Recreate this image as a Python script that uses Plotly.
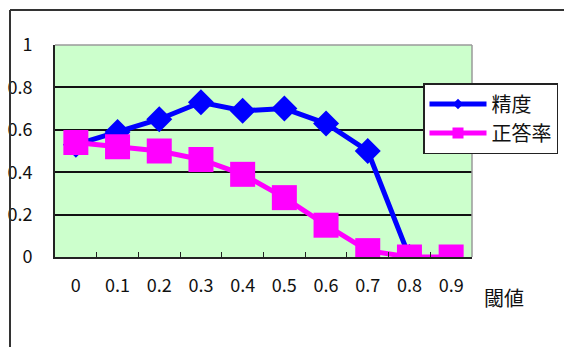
import plotly.graph_objects as go

categories = ["0", "0.1", "0.2", "0.3", "0.4", "0.5", "0.6", "0.7", "0.8", "0.9"]
precision = [0.53, 0.59, 0.65, 0.73, 0.69, 0.70, 0.63, 0.50, 0.0, None]
accuracy = [0.54, 0.52, 0.50, 0.46, 0.39, 0.28, 0.15, 0.03, 0.0, 0.0]
y_ticks = [0, 0.2, 0.4, 0.6, 0.8, 1]
y_labels = ["0", "0.2", "0.4", "0.6", "0.8", "1"]
series_names = ["精度", "正答率"]

W, H = 564, 347
L, R, T, B = 55, 472, 45, 257
pw, ph = R - L, B - T

def px(x):
    return (x - L) / pw

def py(y):
    return (B - y) / ph

BLUE, PINK = "#0000FF", "#FF00FF"

fig = go.Figure()
fig.add_trace(go.Scatter(
    x=categories, y=precision, name=series_names[0], mode="lines+markers",
    line=dict(color=BLUE, width=5), showlegend=False,
    marker=dict(symbol="diamond", size=20, color=BLUE),
))
fig.add_trace(go.Scatter(
    x=categories, y=accuracy, name=series_names[1], mode="lines+markers",
    line=dict(color=PINK, width=5), showlegend=False,
    marker=dict(symbol="square", size=25, color=PINK),
))
# legend entries (smaller symbols like the original)
fig.add_trace(go.Scatter(
    x=[None], y=[None], name=series_names[0], mode="lines+markers",
    line=dict(color=BLUE, width=5),
    marker=dict(symbol="diamond", size=8, color=BLUE),
))
fig.add_trace(go.Scatter(
    x=[None], y=[None], name=series_names[1], mode="lines+markers",
    line=dict(color=PINK, width=5),
    marker=dict(symbol="square", size=11, color=PINK),
))

font_family = "Noto Sans CJK JP, sans-serif"

fig.update_layout(
    width=W, height=H,
    margin=dict(l=L, r=W - R, t=T, b=H - B, pad=0, autoexpand=False),
    paper_bgcolor="white",
    plot_bgcolor="#CCFFCC",
    font=dict(family=font_family, size=18, color="#111111"),
    showlegend=True,
    legend=dict(
        x=px(423), y=py(83), xanchor="left", yanchor="top",
        bgcolor="white", bordercolor="#222222", borderwidth=1.5,
        font=dict(size=20, family=font_family, color="#111111"),
        itemwidth=57, tracegroupgap=0, itemsizing="trace",
    ),
    xaxis=dict(
        type="category", categoryorder="array", categoryarray=categories,
        range=[-0.5, 9.5], tickson="boundaries", ticks="inside", ticklen=5,
        tickcolor="#222222", showgrid=False, showline=True, linecolor="#222222",
        linewidth=2, mirror=False, zeroline=False, ticklabelstandoff=11,
        tickfont=dict(size=18), automargin=False,
    ),
    yaxis=dict(
        range=[0, 1], tickvals=y_ticks, ticktext=y_labels, showgrid=True,
        gridcolor="#111111", gridwidth=1.5, showline=True, linecolor="#222222",
        linewidth=2, zeroline=False, ticks="", ticklabelstandoff=17,
        tickfont=dict(size=18), automargin=False,
    ),
    shapes=[
        dict(type="line", xref="paper", yref="paper", x0=0, x1=1, y0=1, y1=1,
             line=dict(color="#9a9a9a", width=1.5)),
        dict(type="line", xref="paper", yref="paper", x0=1, x1=1, y0=0, y1=1,
             line=dict(color="#9a9a9a", width=1.5)),
        dict(type="line", xref="paper", yref="paper", x0=px(10), x1=px(566),
             y0=py(10), y1=py(10), line=dict(color="#333333", width=2)),
        dict(type="line", xref="paper", yref="paper", x0=px(10), x1=px(10),
             y0=py(10), y1=py(350), line=dict(color="#333333", width=2)),
    ],
    annotations=[
        dict(text="閾値", xref="paper", yref="paper", x=px(504), y=py(297),
             showarrow=False, font=dict(size=20, family=font_family, color="#111111"),
             xanchor="center", yanchor="middle"),
    ],
)

fig.write_html("out.html")
